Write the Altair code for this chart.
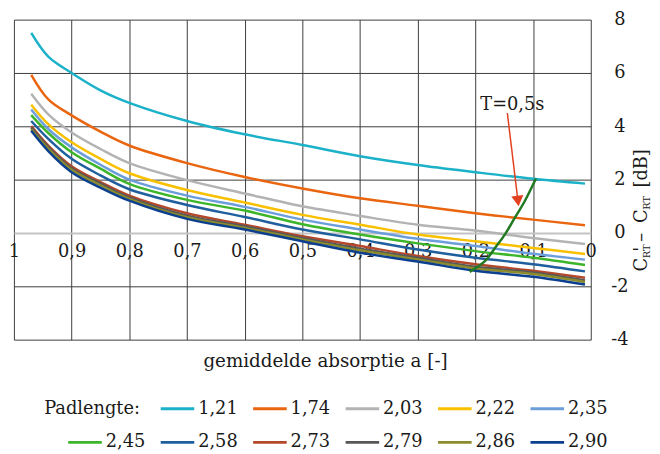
import altair as alt
import pandas as pd

# ---------------- data ----------------
A = [0.97, 0.94, 0.90, 0.85, 0.80, 0.70, 0.60, 0.50, 0.40, 0.30, 0.20, 0.10, 0.01]

PADLENGTE = ["1,21", "1,74", "2,03", "2,22", "2,35", "2,45", "2,58", "2,73", "2,79", "2,86", "2,90"]
COLORS = ["#1bb1c8", "#e9650f", "#b3b3b3", "#f9c000", "#6c9fda", "#3db52a",
          "#1f5f9e", "#b5472b", "#575757", "#8c8c2c", "#0d3f8f"]

V_121 = [7.50, 6.60, 6.00, 5.35, 4.88, 4.20, 3.70, 3.30, 2.88, 2.55, 2.28, 2.03, 1.85]
V_174 = [5.93, 5.00, 4.41, 3.80, 3.28, 2.62, 2.10, 1.67, 1.30, 1.02, 0.74, 0.50, 0.29]
V_203 = [5.22, 4.44, 3.77, 3.15, 2.62, 1.98, 1.48, 1.00, 0.64, 0.31, 0.09, -0.19, -0.41]
V_222 = [4.81, 4.07, 3.40, 2.78, 2.24, 1.61, 1.14, 0.68, 0.31, -0.06, -0.31, -0.56, -0.79]
V_235 = [4.63, 3.89, 3.21, 2.56, 2.00, 1.40, 0.98, 0.50, 0.13, -0.22, -0.49, -0.78, -1.00]
V_245 = [4.42, 3.74, 3.03, 2.41, 1.84, 1.24, 0.84, 0.33, -0.06, -0.39, -0.68, -0.93, -1.20]
V_258 = [4.20, 3.52, 2.78, 2.16, 1.64, 1.05, 0.60, 0.13, -0.24, -0.62, -0.93, -1.17, -1.44]
V_273 = [4.01, 3.27, 2.50, 1.91, 1.40, 0.74, 0.31, -0.12, -0.49, -0.86, -1.17, -1.42, -1.68]
V_279 = [3.95, 3.21, 2.43, 1.85, 1.33, 0.65, 0.25, -0.19, -0.59, -0.93, -1.27, -1.48, -1.78]
V_286 = [3.89, 3.15, 2.37, 1.79, 1.28, 0.59, 0.19, -0.24, -0.65, -0.99, -1.33, -1.54, -1.84]
V_290 = [3.83, 3.06, 2.28, 1.70, 1.21, 0.53, 0.13, -0.31, -0.74, -1.07, -1.42, -1.64, -1.93]
SERIES = [V_121, V_174, V_203, V_222, V_235, V_245, V_258, V_273, V_279, V_286, V_290]

# T = 0,5 s curve
T_A = [0.095, 0.115, 0.132, 0.149, 0.166, 0.183, 0.210]
T_V = [2.04, 1.17, 0.56, -0.06, -0.56, -1.05, -1.46]

ANNOT_TEXT = ["T=0,5s"]
ANNOT_A = [0.1915]
ANNOT_V = [4.62]
ARROW_A = [0.1446]
ARROW_V = [4.50]
ARROW_A2 = [0.1268]
ARROW_V2 = [1.30]
HEAD_A = [0.1262]
HEAD_V = [1.20]

X_TICKS = [1.0, 0.9, 0.8, 0.7, 0.6, 0.5, 0.4, 0.3, 0.2, 0.1, 0.0]
Y_TICKS = [-4, -2, 0, 2, 4, 6, 8]

LEGEND_TITLE = "Padlengte:"
X_TITLE = "gemiddelde absorptie a [-]"

# ---------------- style ----------------
FONT = "DejaVu Serif"
INK = "#1a1a1a"
GRID = "#3c3c3c"
ZERO = "#c4c4c4"
RED = "#e2401e"
T_COLOR = "#217a21"
W, H = 584, 324

rows = []
for name, vals in zip(PADLENGTE, SERIES):
    for a, v in zip(A, vals):
        rows.append({"a": a, "v": v, "serie": name})
df = pd.DataFrame(rows)

x_scale = alt.Scale(domain=[0, 1], reverse=True, nice=False, zero=False)
y_scale = alt.Scale(domain=[-4, 8], nice=False, zero=False)

x_axis = alt.Axis(
    values=X_TICKS,
    labelExpr="replace(format(datum.value, '.1~f'), '.', ',')",
    orient="bottom", offset=-H / 3, domain=False, ticks=False,
    labelFlush=False, labelOverlap=False, labelPadding=10,
    labelFontSize=18, labelColor=INK, labelFont=FONT,
    grid=True, gridColor=GRID, gridWidth=1, gridOpacity=1,
    title=X_TITLE, titleFont=FONT, titleFontSize=18.5, titleFontWeight="normal",
    titleColor=INK, titleX=315, titleY=135, titleAlign="center",
    titleBaseline="alphabetic", titleAngle=0,
)
y_axis = alt.Axis(
    values=Y_TICKS,
    labelExpr="datum.value < 0 ? '-' + abs(datum.value) : '' + datum.value",
    orient="right", domain=False, ticks=False, labelAlign="center",
    labelPadding=29, labelFontSize=18, labelColor=INK, labelFont=FONT,
    labelOverlap=False,
    grid=True,
    gridColor={"condition": {"test": "datum.value === 0", "value": ZERO}, "value": GRID},
    gridWidth={"condition": {"test": "datum.value === 0", "value": 2}, "value": 1},
    gridOpacity=1,
    title=None,
)

lines = alt.Chart(df).mark_line(strokeWidth=2.5, interpolate="catmull-rom").encode(
    x=alt.X("a:Q", scale=x_scale, axis=x_axis),
    y=alt.Y("v:Q", scale=y_scale, axis=y_axis),
    color=alt.Color("serie:N", scale=alt.Scale(domain=PADLENGTE, range=COLORS), legend=None),
    order=alt.Order("a:Q", sort="descending"),
)

t_curve = alt.Chart(pd.DataFrame({"a": T_A, "v": T_V})).mark_line(
    color=T_COLOR, strokeWidth=2.5, interpolate="catmull-rom"
).encode(x="a:Q", y="v:Q", order=alt.Order("a:Q", sort="descending"))

arrow = alt.Chart(pd.DataFrame({"a": ARROW_A, "v": ARROW_V, "a2": ARROW_A2, "v2": ARROW_V2})).mark_rule(
    color=RED, strokeWidth=1.5
).encode(x="a:Q", y="v:Q", x2="a2:Q", y2="v2:Q")

head = alt.Chart(pd.DataFrame({"a": HEAD_A, "v": HEAD_V})).mark_point(
    shape="triangle-down", filled=True, size=150, color=RED, opacity=1, angle=353
).encode(x="a:Q", y="v:Q")

annot = alt.Chart(pd.DataFrame({"a": ANNOT_A, "v": ANNOT_V, "t": ANNOT_TEXT})).mark_text(
    align="left", baseline="alphabetic", fontSize=18, font=FONT, color=INK
).encode(x="a:Q", y="v:Q", text="t:N")

# y-axis title "C_RT' - C_RT [dB]" (rotated, built from pieces for subscripts)
TITLE_PIECES = [  # text, font size, x (baseline), y (start)
    ("C", 18, 641.3, 255),
    ("RT", 10, 643.8, 241.5),
    ("'", 18, 641.3, 235),
    ("\u2013", 18, 641.3, 225),
    ("C", 18, 641.3, 206),
    ("RT", 10, 643.8, 192.5),
    ("[dB]", 18, 641.3, 170),
]
title_layers = [
    alt.Chart().mark_text(
        text=t, fontSize=fs, font=FONT, color=INK, angle=270,
        align="left", baseline="alphabetic"
    ).encode(x=alt.value(px), y=alt.value(py))
    for t, fs, px, py in TITLE_PIECES
]

main = alt.layer(lines, t_curve, arrow, head, annot, *title_layers).properties(width=W, height=H)

# ---------------- legend ----------------
leg_rows = []
for i, (name, clr) in enumerate(zip(PADLENGTE, COLORS)):
    row, col = (0, i + 1) if i < 5 else (1, i - 5)
    leg_rows.append({"c0": col, "c1": col + 0.363, "cl": col + 0.405, "row": row,
                     "name": name, "clr": clr})
leg_df = pd.DataFrame(leg_rows)

leg_x = alt.Scale(domain=[0, 6], range=[55, 616.6])
leg_y = alt.Scale(domain=[0, 1], range=[17, 51])

sym = alt.Chart(leg_df).mark_rule(strokeWidth=3).encode(
    x=alt.X("c0:Q", scale=leg_x, axis=None),
    x2="c1:Q",
    y=alt.Y("row:Q", scale=leg_y, axis=None),
    color=alt.Color("clr:N", scale=None, legend=None),
)
lab = alt.Chart(leg_df).mark_text(align="left", baseline="middle", fontSize=18, font=FONT, color=INK).encode(
    x=alt.X("cl:Q", scale=leg_x, axis=None),
    y=alt.Y("row:Q", scale=leg_y, axis=None),
    text="name:N",
)
leg_head = alt.Chart(pd.DataFrame({"cl": [0.776], "row": [0], "t": [LEGEND_TITLE]})).mark_text(
    align="right", baseline="middle", fontSize=18, font=FONT, color=INK
).encode(
    x=alt.X("cl:Q", scale=leg_x, axis=None),
    y=alt.Y("row:Q", scale=leg_y, axis=None),
    text="t:N",
)
legend = alt.layer(sym, lab, leg_head).properties(width=600, height=50)

chart = alt.vconcat(main, legend, spacing=22).resolve_scale(
    x="independent", y="independent", color="independent"
).properties(padding=0).configure(font=FONT).configure_view(stroke=None)

chart.save("out.html", embed_options={"renderer": "svg", "actions": False})
